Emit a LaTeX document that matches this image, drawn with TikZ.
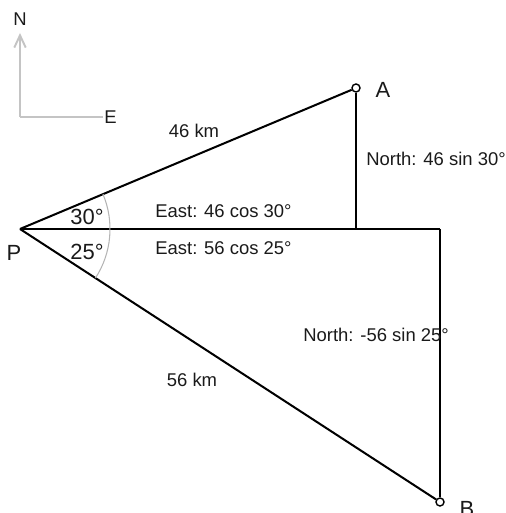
\documentclass[tikz,border=0pt]{standalone}
\usepackage{fontspec}
\setmainfont{Liberation Sans}
\usetikzlibrary{arrows.meta}
\definecolor{cmpgray}{HTML}{C4C4C4}
\definecolor{arcgray}{HTML}{B4B4B4}
\definecolor{txtdark}{HTML}{1A1A1A}
\tikzset{
	vline/.style={line width=1.15pt, draw=black},
	cmpline/.style={line width=1.1pt, draw=cmpgray},
	lbl/.style={font=\fontsize{10.5}{12}\selectfont, inner sep=0pt, text=txtdark},
	biglbl/.style={font=\fontsize{12.5}{14}\selectfont, inner sep=0pt, text=txtdark},
	endpt/.style={circle, draw=black, fill=white, line width=0.8pt,
		minimum size=0.16cm, inner sep=0pt}
}

\begin{document}
\begin{tikzpicture}[x=0.02cm, y=0.02cm]
	\useasboundingbox (0,0) rectangle (506,513);
	% compass
	\coordinate (o) at (20,396);
	\coordinate (ntip) at (20,480);
	\coordinate (eend) at (103,396);
	\node[lbl] (nlab) at (20,494) {N};
	\node[lbl, anchor=west] (elab) at (104,396) {E};
	\draw[cmpline, -{Straight Barb[length=7pt,width=6.5pt]}] (o) -- (ntip);
	\draw[cmpline] (o) -- (eend);
	% points
	\coordinate (P) at (20,284);
	\coordinate (afoot) at (356,284);
	\coordinate (bfoot) at (440,284);
	\node[endpt] (A) at (356,425) {};
	\node[endpt] (B) at (440,11) {};
	% triangles
	\draw[vline] (P) -- (A);
	\draw[vline] (A) -- (afoot);
	\draw[vline] (P) -- (bfoot);
	\draw[vline] (bfoot) -- (B);
	\draw[vline] (P) -- (B);
	% angle arc
	\draw[arcgray, line width=0.6pt] (P) ++(22.76:90) arc[start angle=22.76, end angle=-33.03, radius=90];
	% labels
	\node[biglbl] (plab) at (14,260) {P};
	\node[biglbl] (alab) at (383,423) {A};
	\node[biglbl] (blab) at (467,4) {B};
	\node[biglbl] (ang1) at (87,296) {30°};
	\node[biglbl] (ang2) at (87,261) {25°};
	\node[lbl] (pa) at (194,382) {46 km};
	\node[lbl] (pb) at (192,133) {56 km};
	\node[lbl, anchor=west] (na) at (366,354) {North: 46 sin 30°};
	\node[lbl, anchor=west] (ea) at (155,302) {East: 46 cos 30°};
	\node[lbl, anchor=west] (eb) at (155,265) {East: 56 cos 25°};
	\node[lbl, anchor=west] (nb) at (303,178) {North: -56 sin 25°};
\end{tikzpicture}
\end{document}
